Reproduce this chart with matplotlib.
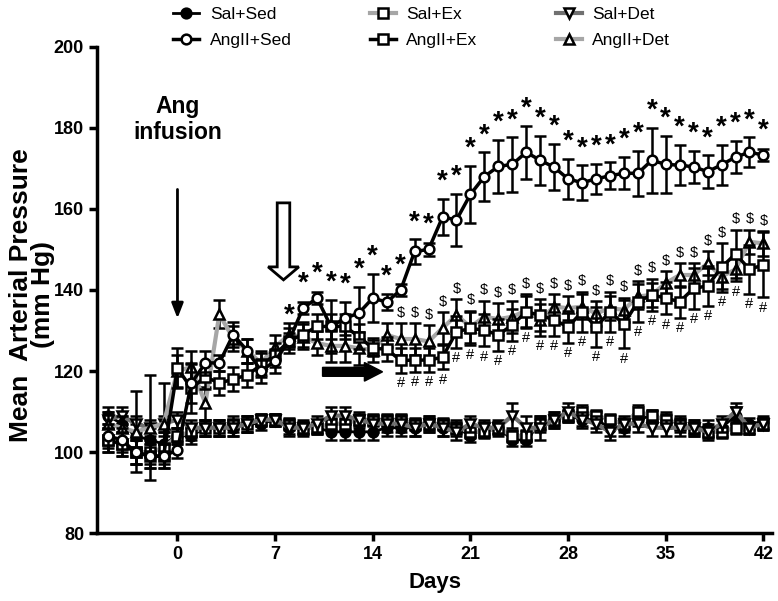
import matplotlib
matplotlib.use("Agg")
import matplotlib.pyplot as plt
import numpy as np
from matplotlib.patches import FancyArrow
from matplotlib import font_manager

plt.rcParams['font.family'] = ['Liberation Sans', 'DejaVu Sans']
names = {f.name for f in font_manager.fontManager.ttflist}
tick_family = ['Liberation Sans Narrow', 'Liberation Sans'] if 'Liberation Sans Narrow' in names else ['Liberation Sans']

days = list(range(-5, 43))

sal_sed = [109, 107, 104, 103, 102, 104, 104, 106, 106, 106, 107, 107, 108, 106, 106, 106,
           105, 105, 105, 105, 106, 106, 106, 107, 106, 106, 104, 106, 106, 103, 103, 107,
           108, 109, 108, 108, 106, 106, 108, 109, 108, 107, 106, 106, 106, 109, 107, 107.5]
sal_sed_err = [2, 2, 3, 3, 3, 2, 2, 2, 2, 2, 2, 1.5, 1.5, 1.5, 1.5, 1.5,
               2, 2, 2, 2, 2, 2, 2, 2, 2, 2, 1.5, 1.5, 1.5, 1.5, 1.5, 2,
               2, 1.5, 1.5, 2, 2, 2, 1.5, 1.5, 2, 2, 2, 2, 2, 2, 1.5, 1.5]

sal_ex = [103, 102, 100, 100, 101, 104, 105, 106, 106, 107, 107, 108, 108, 107, 106, 106,
          107, 107, 108, 108, 108, 108, 107, 107, 107, 106, 105, 105, 106, 104, 104, 107,
          108, 109, 110, 109, 108, 107, 110, 109, 108, 107, 106, 105, 105, 106, 106, 107]
sal_ex_err = [3, 3, 3, 3, 3, 2, 2, 2, 2, 2, 2, 1.5, 1.5, 1.5, 1.5, 1.5,
              1.5, 1.5, 1.5, 1.5, 1.5, 1.5, 1.5, 1.5, 1.5, 1.5, 1.5, 1.5, 1.5, 1.5, 1.5, 1.5,
              1.5, 1.5, 1.5, 1.5, 1.5, 1.5, 1.5, 1.5, 1.5, 1.5, 1.5, 1.5, 1.5, 1.5, 1.5, 1.5]

sal_det = [108, 109, 107, 106, 107, 108, 106, 106, 106, 106, 107, 108, 108, 106, 106, 107,
           109, 109, 108, 107, 107, 107, 106, 107, 106, 105, 107, 106, 106, 109, 106, 106,
           108, 110, 108, 107, 105, 107, 107, 106, 106, 106, 106, 105, 107, 110, 106, 107]
sal_det_err = [2, 2, 2, 2, 2, 2, 2, 2, 2, 2, 2, 1.5, 1.5, 2, 2, 2,
               2, 2, 2, 2, 2, 2, 2, 2, 2, 2, 2, 2, 2, 3, 3, 3,
               2, 2, 2, 2, 2, 2, 2, 2, 2, 2, 2, 2, 2, 2, 1.5, 1.5]

ang_sed = [104, 103, 100, 99, 99, 100.5, 117, 122, 122, 129, 125, 120, 122.5, 127.5, 135.5, 138,
           131, 133, 134.3, 138, 137, 140, 149.5, 150, 158, 157.3, 163.6, 168, 170.5, 171, 174, 172,
           170.3, 167.4, 166.5, 167.4, 168.2, 168.8, 168.8, 172, 171, 170.8, 170.4, 169.2, 170.9, 172.8, 174, 173.3]
ang_sed_err = [3, 3, 3, 3, 3, 2, 5, 3, 2, 3, 3, 3, 3, 2, 1.5, 1.5,
               6.5, 4, 6.5, 6, 2, 1.5, 3, 1.5, 4.5, 6.5, 7, 6, 6.5, 6.7, 6.5, 6,
               5.7, 5, 4.3, 3.7, 3.3, 4, 5.5, 8, 7, 5, 4, 4, 5, 4, 3.7, 1.5]

ang_ex = [103, 102, 100, 99, 99, 120.7, 115.7, 118.6, 117, 118, 119, 121.5, 124, 127.5, 129, 131,
          131, 131, 128.5, 125.6, 125.4, 122.6, 122.7, 122.7, 123.4, 129.7, 130.5, 130.1, 128.9, 131.4, 134.6, 133.8,
          132.6, 130.9, 134.6, 130.9, 134.6, 131.6, 137.1, 138.8, 138, 137.1, 140.4, 141, 145.6, 148.9, 145.1, 146.2]
ang_ex_err = [3, 3, 3, 3, 3, 5, 6, 3, 3, 3, 3, 3, 3, 3, 3, 3,
              3, 3, 3, 2, 3, 3, 3, 3, 3, 4, 4, 4, 4, 4, 4, 4,
              4, 4, 5, 5, 5, 6, 5, 4, 4, 4, 5, 5, 6, 6, 6, 8]

ang_det = [107, 106, 105, 106, 107, 120, 121, 112, 134, 128, 125, 122, 126, 128.9, 128.5, 126.9,
           126.2, 126.2, 125.6, 125.2, 128.9, 127.9, 127.9, 127.3, 130.6, 133.8, 130.9, 133.4, 132.8, 133.4, 134.9, 132.6,
           135.9, 135.5, 135.9, 134.2, 135.5, 135.1, 138.4, 138.8, 141.7, 143.7, 143.7, 146.6, 143.3, 145.1, 151.9, 151.5]
ang_det_err = [3, 3, 10, 13, 10, 4, 4, 4, 3.5, 3, 3, 3, 3, 3, 3, 3,
               4, 4, 4, 3, 3, 4, 4, 4, 4, 4, 4, 4, 4, 4, 4, 4,
               3, 3, 3, 3, 3, 3, 3, 3, 3, 3, 3, 3, 3, 3, 3, 3]

star_days = list(range(8, 43))
dollar_days = list(range(16, 43))
hash_days = list(range(16, 43))

xticks = [0, 7, 14, 21, 28, 35, 42]
yticks = [80, 100, 120, 140, 160, 180, 200]

fig = plt.figure(figsize=(7.78, 6.01), dpi=100)
ax = fig.add_axes([0.125, 0.113, 0.867, 0.809])

grey = '#a6a6a6'
dgrey = '#707070'

series = [
    ('Sal+Sed', sal_sed, sal_sed_err, 'o', 'black', 'black', 2.0, 3),
    ('AngII+Sed', ang_sed, ang_sed_err, 'o', 'black', 'white', 2.5, 9),
    ('Sal+Ex', sal_ex, sal_ex_err, 's', grey, 'white', 3.0, 4),
    ('AngII+Ex', ang_ex, ang_ex_err, 's', 'black', 'white', 2.5, 8),
    ('Sal+Det', sal_det, sal_det_err, 'v', dgrey, 'white', 3.0, 5),
    ('AngII+Det', ang_det, ang_det_err, '^', grey, 'white', 3.0, 7),
]

handles = []
labels = []
for name, y, e, m, lc, fc, lw, z in series:
    h = ax.errorbar(days, y, yerr=e, fmt='-', marker=m, color=lc, lw=lw,
                    mfc=fc, mec='black', mew=1.8, ms=7, ecolor='black',
                    elinewidth=1.8, capsize=4, capthick=1.8, zorder=z, label=name)
    handles.append(h[0])
    labels.append(name)

ang_sed_a = np.array(ang_sed)
ang_sed_e = np.array(ang_sed_err)
for d in star_days:
    i = days.index(d)
    yv = ang_sed_a[i] + max(ang_sed_e[i], 1.8) + 1.0
    ax.text(d, yv, '*', ha='center', va='bottom', fontsize=20, fontweight='bold', zorder=10)

ex_a = np.array(ang_ex); ex_e = np.array(ang_ex_err)
det_a = np.array(ang_det); det_e = np.array(ang_det_err)
for d in dollar_days:
    i = days.index(d)
    top = max(ex_a[i] + ex_e[i], det_a[i] + det_e[i])
    ax.text(d, top + 0.8, '$', ha='center', va='bottom', fontsize=10.5, zorder=10)
for d in hash_days:
    i = days.index(d)
    bot = min(ex_a[i] - ex_e[i], det_a[i] - det_e[i])
    ax.text(d, bot - 0.8, '#', ha='center', va='top', fontsize=10.5, zorder=10)

# annotations
ax.text(0, 182, 'Ang\ninfusion', ha='center', va='center', fontsize=16.5,
        fontweight='bold', linespacing=1.15)
ax.annotate('', xy=(0, 132.3), xytext=(0, 165.5),
            arrowprops=dict(arrowstyle='-|>,head_length=0.9,head_width=0.35', lw=2, color='black'))
ax.add_patch(FancyArrow(7.6, 161.5, 0, -19, width=0.9, head_width=2.2, head_length=3.2,
                        length_includes_head=True, fc='white', ec='black', lw=2, zorder=10))
ax.add_patch(FancyArrow(10.4, 119.8, 4.3, 0, width=2.2, head_width=4.6, head_length=1.3,
                        length_includes_head=True, fc='black', ec='black', lw=1, zorder=10))

ax.set_xlim(-5.75, 42.6)
ax.set_ylim(80, 200)
ax.set_xticks(xticks)
ax.set_yticks(yticks)
for sp in ['top', 'right']:
    ax.spines[sp].set_visible(False)
for sp in ['left', 'bottom']:
    ax.spines[sp].set_linewidth(2.5)
ax.tick_params(width=2.5, length=6, labelsize=13)
for lab in ax.get_xticklabels() + ax.get_yticklabels():
    lab.set_fontweight('bold')
    lab.set_family(tick_family)
ax.set_xlabel('Days', fontsize=16, fontweight='bold', labelpad=6)
ax.set_ylabel('Mean  Arterial Pressure\n(mm Hg)', fontsize=19, fontweight='bold',
              linespacing=0.92)
ax.yaxis.set_label_coords(-0.062, 0.49)

fig.legend(handles, labels, loc='upper center', bbox_to_anchor=(0.542, 1.014), ncol=3,
           frameon=False, fontsize=12.5, columnspacing=4.5, handlelength=1.5, handletextpad=0.6,
           labelspacing=0.6)

fig.savefig('out.png', dpi=100)
